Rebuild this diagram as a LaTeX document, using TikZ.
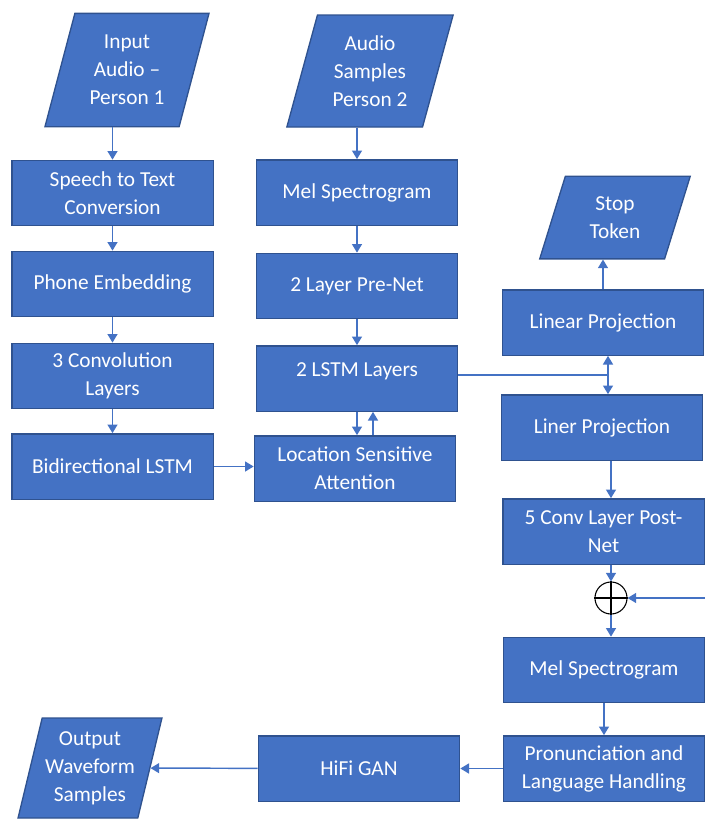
\documentclass[tikz,border=0pt]{standalone}
\usepackage{fontspec}
\setmainfont{Carlito}
\usetikzlibrary{shapes.geometric,arrows.meta}
\definecolor{boxblue}{HTML}{4472C4}
\definecolor{boxedge}{HTML}{2F528F}
\tikzset{
  block/.style={draw=boxedge, line width=1pt, fill=boxblue, text=white,
    minimum width=151pt, minimum height=49pt, align=center, inner sep=2pt,
    font=\fontsize{16}{21}\selectfont},
  iobox/.style={block, trapezium, trapezium left angle=73,
    trapezium right angle=107, trapezium stretches=true},
  arr/.style={draw=boxblue, line width=1.1pt, -{Triangle[width=7.5pt,length=6.5pt]}},
  link/.style={draw=boxblue, line width=1.1pt}
}
\begin{document}
\begin{tikzpicture}[x=0.75pt,y=-0.75pt]
\useasboundingbox (0,0) rectangle (705,819);
% first column
\node[iobox, minimum width=124pt, minimum height=85pt] (inaudio) at (127,70) {Input\\Audio --\\Person 1};
\node[block] (stt) at (112.5,193) {Speech to Text\\Conversion};
\node[block] (phone) at (112.5,284) {Phone Embedding};
\node[block] (conv) at (112.5,376) {3 Convolution\\Layers};
\node[block] (bilstm) at (112.5,466.5) {Bidirectional LSTM};
% second column
\node[iobox, minimum width=125pt, minimum height=84pt] (samples) at (370,71) {Audio\\Samples\\Person 2};
\node[block] (mel) at (357,192.5) {Mel Spectrogram};
\node[block] (prenet) at (357,286) {2 Layer Pre-Net};
\node[block, text depth=14pt] (lstm) at (357,378.5) {2 LSTM Layers};
\node[block] (lsa) at (355,468.5) {Location Sensitive\\Attention};
% third column
\node[iobox, minimum width=113pt, minimum height=62pt] (stop) at (615,217.5) {Stop\\Token};
\node[block] (linproj) at (603,322.5) {Linear Projection};
\node[block] (linerproj) at (602,427.5) {Liner Projection};
\node[block] (postnet) at (603.5,531.5) {5 Conv Layer Post-\\Net};
\node[circle, draw=black, line width=0.8pt, minimum size=24pt, inner sep=0pt] (sum) at (611,598) {};
\draw[line width=0.8pt] (sum.north) -- (sum.south) (sum.west) -- (sum.east);
\node[block] (mel2) at (604,670) {Mel Spectrogram};
\node[block] (pron) at (604,768.5) {Pronunciation and\\Language Handling};
\node[block] (hifi) at (359,768.5) {HiFi GAN};
\node[iobox, minimum width=108pt, minimum height=75pt] (output) at (90,768) {Output\\Waveform\\Samples};
% encoder side
\draw[arr] (stt.north |- inaudio.south) -- (stt.north);
\draw[arr] (stt) -- (phone);
\draw[arr] (phone) -- (conv);
\draw[arr] (conv) -- (bilstm);
\draw[arr] (bilstm.east) -- (bilstm.east -| lsa.west);
% decoder side
\draw[arr] (mel.north |- samples.south) -- (mel.north);
\draw[arr] (mel) -- (prenet);
\draw[arr] (prenet) -- (lstm);
\draw[arr] (lstm.south) -- (lstm.south |- lsa.north);
\draw[arr] ([xshift=12pt]lstm.south |- lsa.north) -- ([xshift=12pt]lstm.south);
\coordinate (split) at (608,375);
\draw[link] (lstm.east |- split) -- (split);
\draw[arr] (split) -- (split |- linproj.south);
\draw[arr] (split) -- (split |- linerproj.north);
\draw[arr] (linproj.north) -- (linproj.north |- stop.south);
% post-net and vocoder
\draw[arr] (sum |- linerproj.south) -- (sum |- postnet.north);
\draw[arr] (sum |- postnet.south) -- (sum.north);
\coordinate (res) at (705,598);
\draw[arr] (res) -- (sum.east);
\draw[arr] (sum.south) -- (sum |- mel2.north);
\draw[arr] (mel2) -- (pron);
\draw[arr] (pron) -- (hifi);
\draw[arr] (hifi) -- (output);
\end{tikzpicture}
\end{document}
